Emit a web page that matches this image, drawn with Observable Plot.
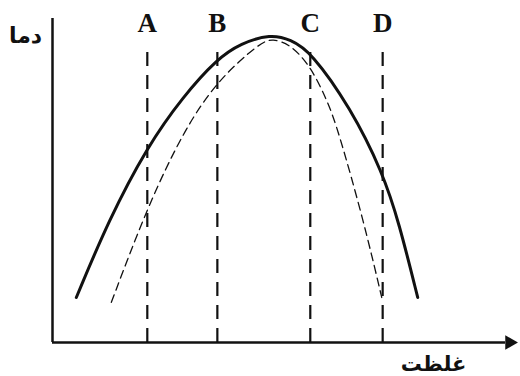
<!DOCTYPE html>
<html><head><meta charset="utf-8">
<script src="https://cdn.jsdelivr.net/npm/d3@7"></script>
<script src="https://cdn.jsdelivr.net/npm/@observablehq/plot@0.6"></script>
<style>body{margin:0;background:#fff}</style>
</head><body><div id="chart"></div>
<script>
// Solid curve (concentration vs temperature), arbitrary units 0–100
const solidX = [5.1, 12.0, 20.3, 28.0, 35.3, 40.3, 46.7, 51.0, 55.3, 63.8, 70.7, 74.2, 78.2];
const solidY = [13.9, 37.7, 60.5, 76.0, 87.6, 92.3, 95.2, 93.5, 89.8, 72.5, 52.5, 37.0, 13.9];
// Dashed curve
const dashedX = [12.6, 20.3, 28.1, 35.3, 44.5, 47.1, 51.0, 55.3, 58.8, 61.0, 66.6, 70.5];
const dashedY = [12.4, 41.8, 65.4, 80.9, 92.6, 93.8, 92.0, 85.2, 74.7, 66.4, 37.7, 13.9];
// Vertical reference lines
const lineLabels = ["A", "B", "C", "D"];
const lineX = [20.3, 35.3, 55.2, 70.7];
const lineTop = 91;
const xLabel = "غلظت";
const yLabel = "دما";

const solid = solidX.map((x, i) => ({x, y: solidY[i]}));
const dashed = dashedX.map((x, i) => ({x, y: dashedY[i]}));
const refs = lineLabels.map((label, i) => ({label, x: lineX[i]}));

const chart = Plot.plot({
  width: 520,
  height: 376,
  marginTop: 18,
  marginLeft: 52,
  marginRight: 1,
  marginBottom: 34,
  x: {domain: [0, 100], axis: null},
  y: {domain: [0, 100], axis: null},
  marks: [
    Plot.ruleX(refs, {x: "x", y1: 0, y2: lineTop, stroke: "#111", strokeWidth: 2.2, strokeDasharray: "14,9"}),
    Plot.line(dashed, {x: "x", y: "y", curve: "basis", stroke: "#111", strokeWidth: 1.3, strokeDasharray: "8,5"}),
    Plot.line(solid, {x: "x", y: "y", curve: "basis", stroke: "#111", strokeWidth: 3}),
    Plot.ruleX([0], {y1: 0, y2: 100, stroke: "#111", strokeWidth: 2.5}),
    Plot.ruleY([0], {x1: 0, x2: 97, stroke: "#111", strokeWidth: 2.5}),
    Plot.dot([100], {x: d => d, y: 0, symbol: "triangle2", r: 7, fill: "#111", stroke: null, rotate: 90, dx: -10}),
    Plot.text(refs, {x: "x", y: 100, text: "label", dy: 5, fontFamily: "Liberation Serif", fontWeight: "bold", fontSize: 27, fill: "#111"}),
    Plot.text([yLabel], {x: 0, y: 100, text: d => d, dx: -27, dy: 17, fontFamily: "DejaVu Sans", fontWeight: "bold", fontSize: 22, fill: "#111"}),
    Plot.text([xLabel], {x: 81.6, y: 0, text: d => d, dy: 22, fontFamily: "DejaVu Sans", fontWeight: "bold", fontSize: 21, fill: "#111"})
  ]
});
document.getElementById("chart").appendChild(chart);
</script>
</body></html>
